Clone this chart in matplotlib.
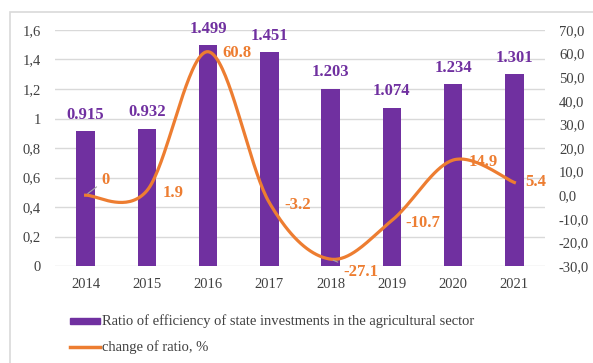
#!/usr/bin/env python3
"""
Efficiency of state investments in the agricultural sector, 2014-2021
"""

import numpy as np
import matplotlib.pyplot as plt
from matplotlib.patches import Rectangle

years = ['2014', '2015', '2016', '2017', '2018', '2019', '2020', '2021']
ratio = [0.915, 0.932, 1.499, 1.451, 1.203, 1.074, 1.234, 1.301]
change = [0.0, 1.9, 60.8, -3.2, -27.1, -10.7, 14.9, 5.4]
ratio_labels = ['0.915', '0.932', '1.499', '1.451', '1.203', '1.074', '1.234', '1.301']
change_labels = ['0', '1.9', '60.8', '-3.2', '-27.1', '-10.7', '14.9', '5.4']

PURPLE = '#7030A0'
ORANGE = '#ED7D31'
GRID = '#D9D9D9'
TEXT = '#404040'


def smooth_curve(x, y, n=40, t=0.5):
    """Bezier smoothing through the points (Excel-like smoothed line)"""
    x = np.asarray(x, float)
    y = np.asarray(y, float)
    px = np.concatenate([[x[0]], x, [x[-1]]])
    py = np.concatenate([[y[0]], y, [y[-1]]])
    xs, ys = [], []
    s = np.linspace(0, 1, n)
    for i in range(1, len(px) - 2):
        p0 = np.array([px[i], py[i]])
        p3 = np.array([px[i + 1], py[i + 1]])
        p1 = p0 + (np.array([px[i + 1], py[i + 1]]) - np.array([px[i - 1], py[i - 1]])) * t / 3
        p2 = p3 - (np.array([px[i + 2], py[i + 2]]) - np.array([px[i], py[i]])) * t / 3
        b = ((1 - s) ** 3)[:, None] * p0 + (3 * (1 - s) ** 2 * s)[:, None] * p1 \
            + (3 * (1 - s) * s ** 2)[:, None] * p2 + (s ** 3)[:, None] * p3
        xs.extend(b[:, 0])
        ys.extend(b[:, 1])
    return np.array(xs), np.array(ys)


plt.rcParams['font.family'] = ['Liberation Serif', 'DejaVu Serif']

fig = plt.figure(figsize=(5.93, 3.63), dpi=100)
fig.patches.append(Rectangle((10 / 593, -0.01), 1.02, 1 - 12 / 363 + 0.01,
                             transform=fig.transFigure, fill=False,
                             edgecolor='#D9D9D9', linewidth=1.2))

ax = fig.add_axes([55 / 593, 97 / 363, 490 / 593, 236 / 363])
x = np.arange(len(years))

ax.bar(x, ratio, width=0.3, color=PURPLE, zorder=2)
ax.set_xlim(-0.5, len(years) - 0.5)
ax.set_ylim(0, 1.6)
ax.set_yticks(np.arange(0, 1.61, 0.2))
ax.set_yticklabels(['0', '0,2', '0,4', '0,6', '0,8', '1', '1,2', '1,4', '1,6'])
ax.set_xticks(x)
ax.set_xticklabels(years)
ax.tick_params(length=0, labelsize=10.5, colors=TEXT, pad=9)
ax.tick_params(axis='y', pad=10)
ax.grid(axis='y', color=GRID, linewidth=1, zorder=0)
ax.set_axisbelow(True)
for sp in ax.spines.values():
    sp.set_visible(False)

for xi, v, lab in zip(x, ratio, ratio_labels):
    ax.annotate(lab, (xi, v), textcoords='offset points', xytext=(0, 6),
                ha='center', va='bottom', color=PURPLE, fontsize=12,
                fontweight='bold')

ax2 = ax.twinx()
ax2.set_ylim(-30, 70)
ax2.set_yticks(np.arange(-30, 71, 10))
ax2.set_yticklabels([f'{v:.1f}'.replace('.', ',') for v in np.arange(-30, 71, 10)])
ax2.tick_params(length=0, labelsize=10.5, colors=TEXT, pad=10)
for sp in ax2.spines.values():
    sp.set_visible(False)

sx, sy = smooth_curve(x, change)
ax2.plot(sx, sy, color=ORANGE, linewidth=2.3, zorder=3)

offsets = [(11.5, 11), (11.5, -2), (10, -1), (11, -1.5), (9, -9), (9.5, -1.5), (11, -1.5), (8, 0)]
for i, (v, lab) in enumerate(zip(change, change_labels)):
    dx, dy = offsets[i]
    arrow = None
    if i in (0, 4):
        arrow = dict(arrowstyle='-', color='#A6A6A6', lw=0.8, shrinkA=2, shrinkB=2)
    ax2.annotate(lab, (x[i], v), textcoords='offset points', xytext=(dx, dy),
                 ha='left', va='center', color=ORANGE, fontsize=12,
                 fontweight='bold', arrowprops=arrow, zorder=4)

# legend drawn below the plot
fig.patches.append(Rectangle((70 / 593, 1 - 324 / 363), 30 / 593, 6 / 363,
                             transform=fig.transFigure, color=PURPLE))
fig.text(102 / 593, 1 - 321 / 363, 'Ratio of efficiency of state investments in the agricultural sector',
         fontsize=10.5, color=TEXT, va='center', ha='left')
fig.lines.append(plt.Line2D([70 / 593, 100 / 593], [1 - 347 / 363, 1 - 347 / 363],
                            transform=fig.transFigure, color=ORANGE, linewidth=2.5))
fig.text(102 / 593, 1 - 347 / 363, 'change of ratio, %',
         fontsize=10.5, color=TEXT, va='center', ha='left')

fig.savefig('out.png', dpi=100)
